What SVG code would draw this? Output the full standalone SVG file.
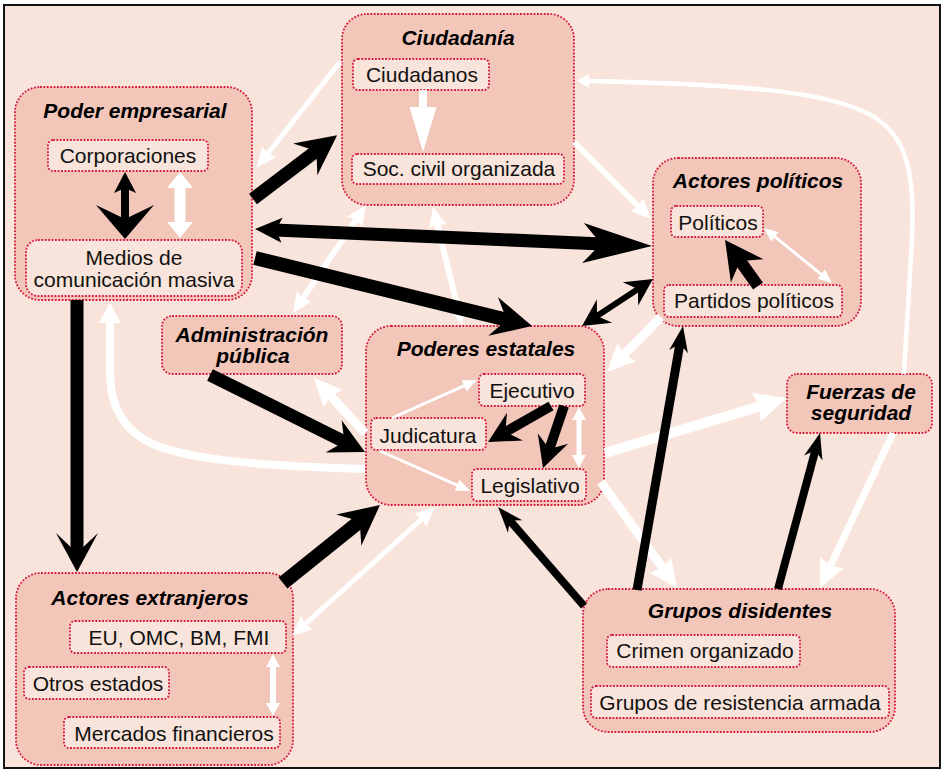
<svg xmlns="http://www.w3.org/2000/svg" width="945" height="772" viewBox="0 0 945 772">
<style>
.outer{fill:#F2C6B9;stroke:#D8173F;stroke-width:1.8;stroke-dasharray:1.8 1.6}
.inner{fill:#F8E4DA;stroke:#D8173F;stroke-width:1.8;stroke-dasharray:1.8 1.6}
.t{font-family:"Liberation Sans",Arial,sans-serif;font-size:21px;font-weight:bold;font-style:italic;fill:#000;text-anchor:middle}
.l{font-family:"Liberation Sans",Arial,sans-serif;font-size:21px;fill:#111;text-anchor:middle}
.k{fill:none;stroke:#000}
.w{fill:none;stroke:#fff}
marker{overflow:visible}
.hk{fill:#000}
.hw{fill:#fff}
</style>
<defs>
<marker id="mBigK" markerUnits="userSpaceOnUse" orient="auto-start-reverse" markerWidth="1" markerHeight="1"><path class="hk" d="M25,0 L-15,-20 L-1,0 L-15,20 Z"/></marker>
<marker id="mAdmK" markerUnits="userSpaceOnUse" orient="auto-start-reverse" markerWidth="1" markerHeight="1"><path class="hk" d="M22,0 L-13,-18 L-1,0 L-13,18 Z"/></marker>
<marker id="mHugeK" markerUnits="userSpaceOnUse" orient="auto-start-reverse" markerWidth="1" markerHeight="1"><path class="hk" d="M50,0 L-19,-20 L-1,0 L-19,20 Z"/></marker>
<marker id="mSmallK" markerUnits="userSpaceOnUse" orient="auto-start-reverse" markerWidth="1" markerHeight="1"><path class="hk" d="M20,0 L-7,-12.5 L-1,0 L-7,12.5 Z"/></marker>
<marker id="mVertK" markerUnits="userSpaceOnUse" orient="auto-start-reverse" markerWidth="1" markerHeight="1"><path class="hk" d="M18,0 L-21,-21 L-1,0 L-21,21 Z"/></marker>
<marker id="mMedK" markerUnits="userSpaceOnUse" orient="auto-start-reverse" markerWidth="1" markerHeight="1"><path class="hk" d="M17,0 L-9,-9.5 L-1,0 L-9,9.5 Z"/></marker>
<marker id="mDblK" markerUnits="userSpaceOnUse" orient="auto-start-reverse" markerWidth="1" markerHeight="1"><path class="hk" d="M17,0 L-10,-14 L-1,0 L-10,14 Z"/></marker>
<marker id="mInK" markerUnits="userSpaceOnUse" orient="auto-start-reverse" markerWidth="1" markerHeight="1"><path class="hk" d="M19,0 L-12,-16 L-1,0 L-12,16 Z"/></marker>
<marker id="mPartK" markerUnits="userSpaceOnUse" orient="auto-start-reverse" markerWidth="1" markerHeight="1"><path class="hk" d="M25,0 L-13,-20 L-1,0 L-13,20 Z"/></marker>
<marker id="mCorpBot" markerUnits="userSpaceOnUse" orient="auto-start-reverse" markerWidth="1" markerHeight="1"><path class="hk" d="M19,0 L-15,-29 L-1,0 L-15,29 Z"/></marker>
<marker id="mCorpTop" markerUnits="userSpaceOnUse" orient="auto-start-reverse" markerWidth="1" markerHeight="1"><path class="hk" d="M15,0 L-6,-11 L-1,0 L-6,11 Z"/></marker>
<marker id="mWs" markerUnits="userSpaceOnUse" orient="auto-start-reverse" markerWidth="1" markerHeight="1"><path class="hw" d="M13,0 L-1,-6 L-1,6 Z"/></marker>
<marker id="mWm" markerUnits="userSpaceOnUse" orient="auto-start-reverse" markerWidth="1" markerHeight="1"><path class="hw" d="M17,0 L-3,-9 L-1,0 L-3,9 Z"/></marker>
<marker id="mWl" markerUnits="userSpaceOnUse" orient="auto-start-reverse" markerWidth="1" markerHeight="1"><path class="hw" d="M24,0 L-4,-13 L-1,0 L-4,13 Z"/></marker>
<marker id="mWxl" markerUnits="userSpaceOnUse" orient="auto-start-reverse" markerWidth="1" markerHeight="1"><path class="hw" d="M28,0 L-4,-15 L-1,0 L-4,15 Z"/></marker>
<marker id="mWciu" markerUnits="userSpaceOnUse" orient="auto-start-reverse" markerWidth="1" markerHeight="1"><path class="hw" d="M44,0 L-1,-13.5 L-1,13.5 Z"/></marker>
<marker id="mWc" markerUnits="userSpaceOnUse" orient="auto-start-reverse" markerWidth="1" markerHeight="1"><path class="hw" d="M11,0 L-1,-7 L-1,7 Z"/></marker>
<marker id="mWcv" markerUnits="userSpaceOnUse" orient="auto-start-reverse" markerWidth="1" markerHeight="1"><path class="hw" d="M19,0 L-1,-11 L-1,11 Z"/></marker>
<marker id="mWcorp" markerUnits="userSpaceOnUse" orient="auto-start-reverse" markerWidth="1" markerHeight="1"><path class="hw" d="M15,0 L-1,-13 L-1,13 Z"/></marker>
<marker id="mWv" markerUnits="userSpaceOnUse" orient="auto-start-reverse" markerWidth="1" markerHeight="1"><path class="hw" d="M12,0 L-1,-7 L-1,7 Z"/></marker>
</defs>

<rect x="0" y="0" width="945" height="772" fill="#fff"/>
<rect x="4" y="5" width="936" height="763" fill="#F8E4DA" stroke="#111" stroke-width="2"/>

<g id="poder-empresarial">
<rect class="outer" x="15" y="87" width="237" height="213" rx="25"/>
<text class="t" x="135" y="118">Poder empresarial</text>
<rect class="inner" x="48" y="140" width="160" height="31" rx="5"/>
<text class="l" x="128" y="163">Corporaciones</text>
<rect class="inner" x="26" y="240" width="216" height="56" rx="12"/>
<text class="l" x="134" y="265">Medios de</text>
<text class="l" x="134" y="287">comunicación masiva</text>
</g>

<g id="ciudadania">
<rect class="outer" x="342" y="14" width="232" height="191" rx="25"/>
<text class="t" x="458" y="45">Ciudadanía</text>
<rect class="inner" x="353" y="59" width="136" height="31" rx="5"/>
<text class="l" x="422" y="82">Ciudadanos</text>
<rect class="inner" x="352" y="154" width="212" height="30" rx="5"/>
<text class="l" x="459" y="176">Soc. civil organizada</text>
</g>

<g id="actores-politicos">
<rect class="outer" x="653" y="158" width="208" height="168" rx="25"/>
<text class="t" x="758" y="188">Actores políticos</text>
<rect class="inner" x="671" y="206" width="92" height="31" rx="5"/>
<text class="l" x="718" y="230">Políticos</text>
<rect class="inner" x="664" y="285" width="178" height="32" rx="5"/>
<text class="l" x="754" y="308">Partidos políticos</text>
</g>

<g id="administracion-publica">
<rect class="outer" x="162" y="316" width="180" height="58" rx="10"/>
<text class="t" x="252" y="342">Administración</text>
<text class="t" x="253" y="363">pública</text>
</g>

<g id="poderes-estatales">
<rect class="outer" x="366" y="326" width="238" height="179" rx="25"/>
<text class="t" x="486" y="356">Poderes estatales</text>
<rect class="inner" x="479" y="374" width="106" height="32" rx="5"/>
<text class="l" x="532" y="398">Ejecutivo</text>
<rect class="inner" x="371" y="418" width="115" height="32" rx="5"/>
<text class="l" x="428" y="443">Judicatura</text>
<rect class="inner" x="472" y="469" width="114" height="32" rx="5"/>
<text class="l" x="530" y="493">Legislativo</text>
</g>

<g id="fuerzas-seguridad">
<rect class="outer" x="787" y="374" width="145" height="59" rx="10"/>
<text class="t" x="861" y="399">Fuerzas de</text>
<text class="t" x="861" y="420">seguridad</text>
</g>

<g id="actores-extranjeros">
<rect class="outer" x="16" y="573" width="277" height="192" rx="25"/>
<text class="t" x="150" y="605">Actores extranjeros</text>
<rect class="inner" x="70" y="621" width="216" height="32" rx="5"/>
<text class="l" x="179" y="645">EU, OMC, BM, FMI</text>
<rect class="inner" x="24" y="667" width="145" height="32" rx="5"/>
<text class="l" x="98" y="691">Otros estados</text>
<rect class="inner" x="64" y="717" width="216" height="31" rx="5"/>
<text class="l" x="174" y="741">Mercados financieros</text>
</g>

<g id="grupos-disidentes">
<rect class="outer" x="583" y="589" width="312" height="143" rx="25"/>
<text class="t" x="740" y="618">Grupos disidentes</text>
<rect class="inner" x="607" y="635" width="193" height="32" rx="5"/>
<text class="l" x="705" y="658">Crimen organizado</text>
<rect class="inner" x="591" y="686" width="298" height="32" rx="5"/>
<text class="l" x="740" y="710">Grupos de resistencia armada</text>
</g>

<g id="connectors">
<!-- white -->
<path class="w" stroke-width="5" d="M340,62 L267.2,154.4" marker-end="url(#mWm)"/>
<path class="w" stroke-width="6" d="M356.5,219.1 L302.5,298.9" marker-start="url(#mWm)" marker-end="url(#mWm)"/>
<path class="w" stroke-width="6" d="M437.1,223.5 L457.9,308.5" marker-start="url(#mWm)" marker-end="url(#mWm)"/>
<path class="w" stroke-width="6" d="M574,142 L639,207" marker-end="url(#mWm)"/>
<path class="w" stroke-width="4.5" d="M904,374 L912,240 C914,180 912,130 860,110 C820,92 740,84 588,81" marker-end="url(#mWc)"/>
<path class="w" stroke-width="7" d="M893,433 L830.2,566.3" marker-end="url(#mWl)"/>
<path class="w" stroke-width="10" d="M605,453 L760.2,406.1" marker-end="url(#mWxl)"/>
<path class="w" stroke-width="9" d="M601,482 L663,568.5" marker-end="url(#mWl)"/>
<path class="w" stroke-width="9" d="M661,317 L623.8,354.9" marker-end="url(#mWl)"/>
<path class="w" stroke-width="5" d="M422.4,518.4 L304.6,624.6" marker-start="url(#mWm)" marker-end="url(#mWm)"/>
<path class="w" stroke-width="8" d="M365,469 C250,466 175,458 145,440 C118,424 110,400 110,370 L110,322" marker-end="url(#mWcv)"/>
<path class="w" stroke-width="9" d="M365,433 L330.3,395.6" marker-end="url(#mWl)"/>
<path class="w" stroke-width="11" d="M180,187 L180,223" marker-start="url(#mWcorp)" marker-end="url(#mWcorp)"/>
<path class="w" stroke-width="8" d="M423,90 L423,108" marker-end="url(#mWciu)"/>
<path class="w" stroke-width="3" d="M774.1,236.2 L821.9,274.8" marker-start="url(#mWs)" marker-end="url(#mWs)"/>
<path class="w" stroke-width="6" d="M273,666 L273,704" marker-start="url(#mWv)" marker-end="url(#mWv)"/>
<path class="w" stroke-width="3" d="M392,418 L465.1,385.3" marker-end="url(#mWs)"/>
<path class="w" stroke-width="3" d="M380,451 L458.1,485.7" marker-end="url(#mWs)"/>
<path class="w" stroke-width="5" d="M579,419 L579,456" marker-start="url(#mWv)" marker-end="url(#mWv)"/>
<!-- black -->
<path class="k" stroke-width="13" d="M253,199 L317.2,150.3" marker-end="url(#mBigK)"/>
<path class="k" stroke-width="13" d="M275,229.9 L602,243.9" marker-start="url(#mSmallK)" marker-end="url(#mHugeK)"/>
<path class="k" stroke-width="14" d="M255,258 L507.7,320" marker-end="url(#mBigK)"/>
<path class="k" stroke-width="6" d="M596.2,316.6 L638.8,288.4" marker-start="url(#mDblK)" marker-end="url(#mDblK)"/>
<path class="k" stroke-width="13" d="M77,300 L77,554" marker-end="url(#mVertK)"/>
<path class="k" stroke-width="13" d="M210,375 L345.3,442.2" marker-end="url(#mAdmK)"/>
<path class="k" stroke-width="14" d="M283,583 L360.5,520.7" marker-end="url(#mBigK)"/>
<path class="k" stroke-width="8" d="M584,606 L509.2,519.8" marker-end="url(#mMedK)"/>
<path class="k" stroke-width="9" d="M637,590 L680.1,342.7" marker-end="url(#mMedK)"/>
<path class="k" stroke-width="8" d="M778,589 L815.6,449.4" marker-end="url(#mMedK)"/>
<path class="k" stroke-width="12" d="M758,286 L739.6,260.3" marker-end="url(#mPartK)"/>
<path class="k" stroke-width="8" d="M125,187 L125,220" marker-start="url(#mCorpTop)" marker-end="url(#mCorpBot)"/>
<path class="k" stroke-width="10" d="M551,406 L504.5,432.6" marker-end="url(#mInK)"/>
<path class="k" stroke-width="10" d="M564,406 L549.1,450" marker-end="url(#mInK)"/>
</g>
</svg>
